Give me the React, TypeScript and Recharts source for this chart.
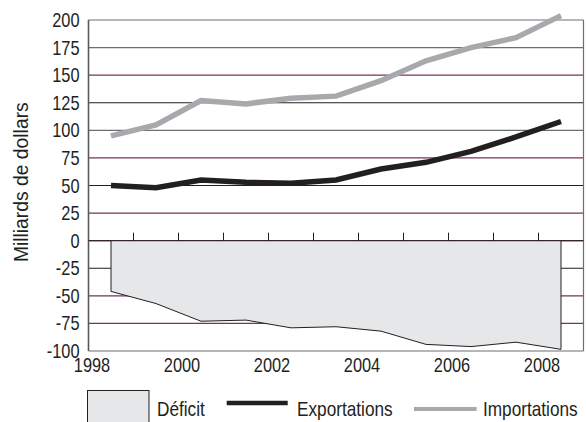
import React from 'react';
import {
  ComposedChart,
  Line,
  Area,
  XAxis,
  YAxis,
  CartesianGrid,
  ReferenceLine,
  ReferenceDot,
} from 'recharts';

// ---- Data ----
const YEARS = [1998, 1999, 2000, 2001, 2002, 2003, 2004, 2005, 2006, 2007, 2008];
const IMPORTATIONS = [95, 105, 127, 124, 129, 131, 145, 163, 175, 184, 204];
const EXPORTATIONS = [50, 48, 55, 53, 52, 55, 65, 71, 81, 94, 108];
const DEFICIT = [-46, -57, -73, -72, -79, -78, -82, -94, -96, -92, -98.5];

const Y_TICKS = [-100, -75, -50, -25, 0, 25, 50, 75, 100, 125, 150, 175, 200];
const X_LABELS = [1998, 2000, 2002, 2004, 2006, 2008];
const ZERO_TICKS = [1999, 2000, 2001, 2002, 2003, 2004, 2005, 2006, 2007, 2008];
const X_DOMAIN = [1998, 2009];
const Y_MIN = -100;
const Y_MAX = 200;

// styles
const FONT = "'Liberation Sans', Arial, sans-serif";
const NARROW = 0.82;
const PURPLE = '#76355f';
const DARK = '#231f20';
const GRAY = '#6d6e71';
const GRID_COLORS: Record<string, string> = {
  '200': GRAY,
  '175': GRAY,
  '150': PURPLE,
  '125': DARK,
  '100': GRAY,
  '75': PURPLE,
  '50': DARK,
  '25': PURPLE,
  '0': '#3a2434',
  '-25': DARK,
  '-50': PURPLE,
  '-75': PURPLE,
  '-100': GRAY,
};

const data = YEARS.map((y, i) => ({
  x: y + 0.5,
  imp: IMPORTATIONS[i],
  exp: EXPORTATIONS[i],
  def: DEFICIT[i],
}));

const first = data[0];
const last = data[data.length - 1];

const NarrowText = ({ x, y, size = 20, anchor = 'start', scale = NARROW, children }: any) => (
  <text
    x={0}
    y={0}
    transform={`translate(${x},${y}) scale(${scale},1)`}
    textAnchor={anchor}
    fontSize={size}
    fontFamily={FONT}
    fill="#231f20"
  >
    {children}
  </text>
);

const YTick = (p: any) => (
  <NarrowText x={p.x} y={p.y + 7} anchor="end">
    {p.payload.value}
  </NarrowText>
);

const XTick = (p: any) => (
  <NarrowText x={p.x + 3.5} y={p.y + 14.5} anchor="middle">
    {p.payload.value}
  </NarrowText>
);

export default function App() {
  return (
    <div style={{ position: 'absolute', left: 0, top: 0, width: 586, height: 422, background: '#fff' }}>
      <ComposedChart
        width={586}
        height={422}
        data={data}
        margin={{ top: 13.4, right: 2.5, left: 0, bottom: 41 }}
      >
        <CartesianGrid
          vertical={false}
          horizontalValues={Y_TICKS}
          horizontal={(p: any) => {
            const v = Y_TICKS[p.index];
            return (
              <line
                key={`h-${p.index}`}
                x1={p.x1}
                x2={p.x2}
                y1={p.y1}
                y2={p.y2}
                stroke={GRID_COLORS[String(v)] || GRAY}
                strokeWidth={1.2}
              />
            );
          }}
        />
        <XAxis
          dataKey="x"
          type="number"
          domain={X_DOMAIN}
          ticks={X_LABELS}
          interval={0}
          axisLine={false}
          tickLine={false}
          tickSize={4}
          tickMargin={2}
          height={30}
          tick={<XTick />}
        />
        <YAxis
          type="number"
          domain={[Y_MIN, 206]}
          ticks={Y_TICKS}
          interval={0}
          axisLine={false}
          tickLine={false}
          tickSize={7}
          tickMargin={2}
          width={88.5}
          tick={<YTick />}
          label={{
            content: (props: any) => {
              const vb = props.viewBox || {};
              const cy = vb.y + vb.height / 2;
              return (
                <text
                  x={0}
                  y={0}
                  transform={`translate(28, ${cy}) rotate(-90) scale(0.92,1)`}
                  textAnchor="middle"
                  fontSize={21}
                  fontFamily={FONT}
                  fill="#231f20"
                >
                  Milliards de dollars
                </text>
              );
            },
          }}
        />
        <Area
          dataKey="def"
          type="linear"
          baseValue={0}
          fill="#e6e7e8"
          fillOpacity={1}
          stroke={DARK}
          strokeWidth={1}
          isAnimationActive={false}
        />
        <ReferenceLine
          segment={[{ x: first.x, y: 0 }, { x: first.x, y: first.def }]}
          stroke={DARK}
          strokeWidth={1}
        />
        <ReferenceLine
          segment={[{ x: last.x, y: 0 }, { x: last.x, y: last.def }]}
          stroke={DARK}
          strokeWidth={1}
        />
        <ReferenceLine
          segment={[{ x: X_DOMAIN[0], y: Y_MIN }, { x: X_DOMAIN[0], y: Y_MAX }]}
          stroke="#58595b"
          strokeWidth={1.6}
        />
        <ReferenceLine
          segment={[{ x: X_DOMAIN[1], y: Y_MIN }, { x: X_DOMAIN[1], y: Y_MAX }]}
          stroke={GRAY}
          strokeWidth={1.2}
        />
        <ReferenceLine y={0} stroke="#3a2434" strokeWidth={1.2} />
        {ZERO_TICKS.map((yr) => (
          <ReferenceDot
            key={yr}
            x={yr}
            y={0}
            r={0}
            shape={(p: any) => (
              <line x1={p.cx} x2={p.cx} y1={p.cy - 8} y2={p.cy} stroke={DARK} strokeWidth={1} />
            )}
          />
        ))}
        <Line
          dataKey="imp"
          type="linear"
          stroke="#a7a9ac"
          strokeWidth={5.5}
          dot={false}
          isAnimationActive={false}
        />
        <Line
          dataKey="exp"
          type="linear"
          stroke={DARK}
          strokeWidth={5.5}
          dot={false}
          isAnimationActive={false}
        />
      </ComposedChart>
      <svg
        width={586}
        height={422}
        style={{ position: 'absolute', left: 0, top: 0, pointerEvents: 'none' }}
      >
        <rect x={87.5} y={390.5} width={61.5} height={40} fill="#e6e7e8" stroke={DARK} strokeWidth={1} />
        <NarrowText x={157} y={415.5} size={21}>Déficit</NarrowText>
        <line x1={226.7} x2={287.7} y1={403} y2={403} stroke={DARK} strokeWidth={4.5} />
        <NarrowText x={297} y={415.5} size={21}>Exportations</NarrowText>
        <line x1={414} x2={476.7} y1={409} y2={409} stroke="#a7a9ac" strokeWidth={4} />
        <NarrowText x={483} y={415.5} size={21}>Importations</NarrowText>
      </svg>
    </div>
  );
}
